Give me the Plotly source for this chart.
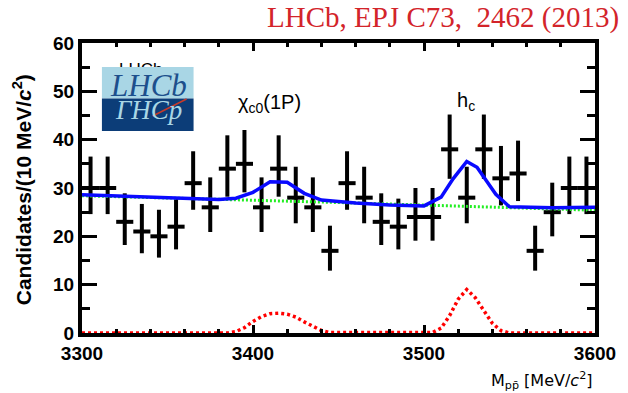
import plotly.graph_objects as go

# ---- binned data: p pbar invariant mass, 10 MeV bins ----
mass_bins = [3305, 3315, 3325, 3335, 3345, 3355, 3365, 3375, 3385, 3395,
             3405, 3415, 3425, 3435, 3445, 3455, 3465, 3475, 3485, 3495,
             3505, 3515, 3525, 3535, 3545, 3555, 3565, 3575, 3585, 3595]
counts = [30, 30, 23, 21, 20, 22, 31, 26, 34, 35,
          26, 34, 28, 26, 17, 31, 28, 23, 22, 24,
          24, 38, 28, 38, 32, 33, 17, 25, 30, 30]
# asymmetric Poisson uncertainties
err_up = [6.5, 6.5, 5.9, 5.7, 5.5, 5.8, 6.6, 6.2, 6.9, 7.0,
          6.2, 6.9, 6.4, 6.2, 5.2, 6.6, 6.4, 5.9, 5.8, 6.0,
          6.0, 7.2, 6.4, 7.2, 6.7, 6.8, 5.2, 6.1, 6.5, 6.5]
err_down = [5.4, 5.4, 4.8, 4.5, 4.4, 4.7, 5.5, 5.1, 5.8, 5.9,
            5.1, 5.8, 5.3, 5.1, 4.1, 5.5, 5.3, 4.8, 4.7, 4.9,
            4.9, 6.1, 5.3, 6.1, 5.6, 5.7, 4.1, 5.0, 5.4, 5.4]
bin_half_width = [5] * len(mass_bins)

# ---- fit projections ----
total_x = [3300, 3340, 3380, 3390, 3400, 3410, 3420, 3430, 3440, 3460,
           3480, 3500, 3510, 3517, 3525, 3531, 3542, 3550, 3575, 3600]
total_y = [28.6, 28.1, 27.6, 27.9, 29.1, 31.3, 31.2, 28.9, 27.5, 26.9,
           26.5, 26.3, 28.1, 31.9, 35.5, 34.3, 28.7, 26.1, 25.9, 26.0]

bkg_x = [3300, 3450, 3600]
bkg_y = [28.4, 27.0, 25.4]

sig_x = [3300, 3385, 3390, 3395, 3400, 3405, 3410, 3415, 3420, 3425,
         3430, 3435, 3440, 3445, 3500, 3505, 3510, 3515, 3520, 3525,
         3530, 3535, 3540, 3545, 3550, 3600]
sig_y = [0, 0, 0.3, 1.1, 2.4, 3.4, 4.0, 4.1, 3.9, 3.3,
         2.3, 1.3, 0.5, 0.1, 0, 0.1, 1.0, 3.6, 7.0, 9.0,
         7.3, 4.6, 2.0, 0.5, 0, 0]

X_RANGE = [3300, 3600]
Y_RANGE = [0, 60]

# plot-area geometry in pixels (for placing labels/logo)
L, R, T, B = 82, 597, 43, 333


def px_x(p):
    return X_RANGE[0] + (p - L) / (R - L) * (X_RANGE[1] - X_RANGE[0])


def px_y(p):
    return Y_RANGE[0] + (B - p) / (B - T) * (Y_RANGE[1] - Y_RANGE[0])


def paper_x(p):
    return (p - L) / (R - L)


def paper_y(p):
    return (B - p) / (B - T)


fig = go.Figure()

# label partly hidden behind the logo
fig.add_trace(go.Scatter(
    x=[px_x(141)], y=[px_y(71)], mode="text", text=["LHCb"],
    textfont=dict(family="Liberation Sans", size=17, color="black"),
    showlegend=False, hoverinfo="skip"))

fig.add_trace(go.Scatter(
    x=mass_bins, y=counts, mode="markers",
    marker=dict(size=0.1, color="black"),
    error_y=dict(type="data", symmetric=False, array=err_up,
                 arrayminus=err_down, color="black", thickness=4, width=0),
    error_x=dict(type="data", array=bin_half_width, color="black",
                 thickness=4, width=0),
    showlegend=False, cliponaxis=False))

fig.add_trace(go.Scatter(
    x=bkg_x, y=bkg_y, mode="lines",
    line=dict(color="#22ee22", width=3, dash="2px,2px"),
    showlegend=False))

fig.add_trace(go.Scatter(
    x=sig_x, y=sig_y, mode="lines",
    line=dict(color="#ff0000", width=3.5, dash="3px,3px"),
    showlegend=False))

fig.add_trace(go.Scatter(
    x=total_x, y=total_y, mode="lines",
    line=dict(color="#0a0aff", width=3.5),
    showlegend=False))

# LHCb logo block
fig.add_shape(type="rect", xref="x", yref="y", layer="above",
              x0=px_x(102), x1=px_x(194), y0=px_y(98.5), y1=px_y(67),
              fillcolor="#a9d6e5", line=dict(width=0))
fig.add_shape(type="rect", xref="x", yref="y", layer="above",
              x0=px_x(102), x1=px_x(194), y0=px_y(131), y1=px_y(98.5),
              fillcolor="#0c3d78", line=dict(width=0))
fig.add_shape(type="line", xref="x", yref="y", layer="above",
              x0=px_x(153), y0=px_y(116), x1=px_x(187), y1=px_y(99),
              line=dict(color="#c83a2a", width=1.5))

annotations = [
    dict(x=px_x(149), y=px_y(85), xref="x", yref="y", text="<i>LHCb</i>",
         showarrow=False, xanchor="center", yanchor="middle",
         font=dict(family="Liberation Serif", size=31, color="#1d4f8c")),
    dict(x=px_x(149), y=px_y(110), xref="x", yref="y", text="<i>ΓHCp</i>",
         showarrow=False, xanchor="center", yanchor="middle",
         font=dict(family="Liberation Serif", size=27, color="#a9d6e5")),
    # peak labels
    dict(x=px_x(270), y=px_y(103), xref="x", yref="y",
         text="χ<sub>c0</sub>(1P)", showarrow=False,
         xanchor="center", yanchor="middle",
         font=dict(family="Liberation Sans", size=20, color="black")),
    dict(x=px_x(467), y=px_y(101), xref="x", yref="y",
         text="h<sub>c</sub>", showarrow=False,
         xanchor="center", yanchor="middle",
         font=dict(family="Liberation Sans", size=20, color="black")),
    # axis titles
    dict(x=paper_x(22), y=paper_y(190), xref="paper", yref="paper",
         text="<b>Candidates/(10 MeV/<i>c</i><sup>2</sup>)</b>",
         textangle=-90, showarrow=False, xanchor="center", yanchor="middle",
         font=dict(family="Liberation Sans", size=21, color="black")),
    dict(x=paper_x(597), y=paper_y(380), xref="paper", yref="paper",
         text="M<sub>pp\u0304</sub> [MeV/<i>c</i><sup>2</sup>]",
         showarrow=False, xanchor="right", yanchor="middle",
         font=dict(family="DejaVu Sans", size=16, color="black")),
    # reference
    dict(x=paper_x(623), y=paper_y(18), xref="paper", yref="paper",
         text="LHCb, EPJ C73,  2462 (2013)", showarrow=False,
         xanchor="right", yanchor="middle",
         font=dict(family="Liberation Serif", size=29, color="#d3242a")),
]

tick_font = dict(family="Liberation Sans", size=19, color="black", weight="bold")

fig.update_layout(
    width=628, height=393,
    margin=dict(l=L, r=628 - R, t=T, b=393 - B),
    paper_bgcolor="white", plot_bgcolor="white",
    showlegend=False,
    annotations=annotations,
    xaxis=dict(range=X_RANGE, showgrid=False, zeroline=False,
               showline=True, linecolor="black", linewidth=4, mirror="allticks",
               ticks="inside", ticklen=8, tickwidth=2.5, tickcolor="black",
               tickvals=[3300, 3400, 3500, 3600],
               minor=dict(dtick=20, ticks="inside", ticklen=4,
                          tickwidth=2.5, tickcolor="black"),
               tickfont=tick_font),
    yaxis=dict(range=Y_RANGE, showgrid=False, zeroline=False,
               showline=True, linecolor="black", linewidth=4, mirror="allticks",
               ticks="inside", ticklen=15, tickwidth=2.5, tickcolor="black",
               tickvals=[0, 10, 20, 30, 40, 50, 60],
               minor=dict(dtick=5, ticks="inside", ticklen=8,
                          tickwidth=2.5, tickcolor="black"),
               tickfont=tick_font),
)

fig.write_html("out.html")
